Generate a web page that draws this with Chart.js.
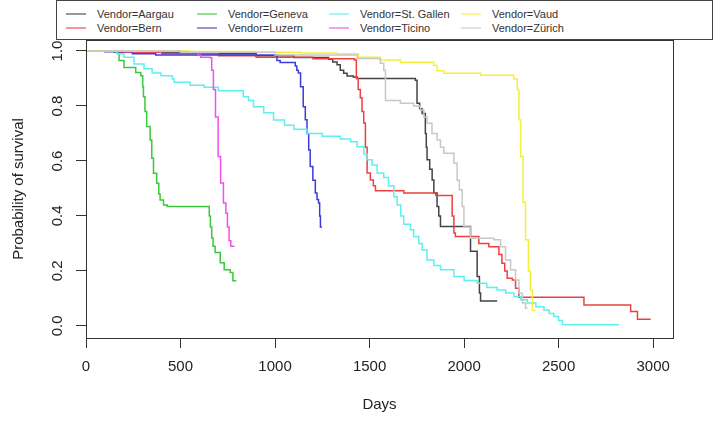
<!DOCTYPE html>
<html>
<head>
<meta charset="utf-8">
<script src="https://cdn.jsdelivr.net/npm/chart.js@4/dist/chart.umd.min.js"></script>
<style>
  html, body { margin: 0; padding: 0; background: #fff; }
  #wrap { position: relative; width: 716px; height: 430px; }
  #legend {
    position: absolute; left: 56px; top: 0; width: 657px; height: 40px;
    box-sizing: border-box; border: 1px solid #444; background: #fff;
    font: 11px "Liberation Sans", Arial, sans-serif; color: #333;
  }
  .item { position: absolute; height: 14px; line-height: 14px; white-space: nowrap; }
  .item i { position: absolute; left: 0; top: 6px; width: 20px; height: 2px; opacity: 0.55; }
  .item span { position: absolute; left: 31px; top: 0; }
</style>
</head>
<body>
<div id="wrap">
  <canvas id="survChart" width="716" height="430"></canvas>
  <div id="legend"></div>
</div>
<script>
// Kaplan-Meier curves per vendor (days, survival probability)
const vendors = ['Aargau', 'Bern', 'Geneva', 'Luzern', 'St. Gallen', 'Ticino', 'Vaud', 'Zürich'];
const colors = ['#444444', '#ee4040', '#3cc83c', '#3c3cdc', '#5cf0f0', '#f050f0', '#f5f03c', '#c8c8c8'];

const aargauDays = [0, 200, 600, 900, 1100, 1283, 1305, 1328, 1345, 1363, 1381, 1414, 1434, 1742, 1751, 1765, 1778, 1795, 1800, 1804, 1818, 1831, 1840, 1857, 1866, 1875, 2034, 2069, 2081, 2087, 2175];
const aargauSurv = [1, 0.995, 0.99, 0.983, 0.976, 0.97, 0.96, 0.95, 0.93, 0.919, 0.909, 0.905, 0.9, 0.894, 0.81, 0.79, 0.773, 0.70, 0.65, 0.604, 0.57, 0.531, 0.483, 0.434, 0.40, 0.362, 0.272, 0.18, 0.12, 0.091, 0.091];

const bernDays = [0, 150, 400, 700, 900, 1200, 1420, 1430, 1440, 1451, 1460, 1469, 1478, 1487, 1504, 1520, 1531, 1681, 1850, 1937, 1946, 1954, 2078, 2131, 2184, 2200, 2215, 2228, 2255, 2272, 2290, 2634, 2881, 2917, 2987];
const bernSurv = [1, 0.995, 0.99, 0.983, 0.977, 0.972, 0.967, 0.90, 0.86, 0.83, 0.78, 0.738, 0.65, 0.556, 0.531, 0.51, 0.492, 0.483, 0.474, 0.40, 0.338, 0.325, 0.30, 0.288, 0.26, 0.228, 0.20, 0.173, 0.167, 0.137, 0.104, 0.076, 0.052, 0.024, 0.024];

const genevaDays = [0, 157, 175, 201, 263, 290, 300, 304, 312, 321, 339, 348, 357, 374, 385, 392, 410, 430, 652, 658, 665, 672, 683, 710, 731, 763, 777, 795];
const genevaSurv = [1, 0.995, 0.965, 0.94, 0.922, 0.91, 0.87, 0.834, 0.78, 0.725, 0.676, 0.61, 0.555, 0.519, 0.48, 0.458, 0.44, 0.434, 0.40, 0.36, 0.32, 0.29, 0.267, 0.23, 0.204, 0.194, 0.164, 0.164];

const luzernDays = [0, 100, 245, 369, 1010, 1027, 1107, 1115, 1123, 1135, 1149, 1160, 1169, 1178, 1186, 1200, 1213, 1222, 1230, 1236, 1240, 1248];
const luzernSurv = [1, 0.997, 0.99, 0.985, 0.965, 0.958, 0.945, 0.93, 0.92, 0.87, 0.797, 0.75, 0.70, 0.64, 0.58, 0.53, 0.483, 0.46, 0.447, 0.40, 0.36, 0.36];

const stGallenDays = [0, 162, 201, 254, 307, 350, 396, 457, 466, 550, 625, 700, 832, 860, 886, 940, 992, 1050, 1100, 1169, 1250, 1345, 1400, 1434, 1470, 1487, 1513, 1540, 1575, 1600, 1628, 1646, 1665, 1681, 1716, 1733, 1760, 1778, 1804, 1840, 1875, 1946, 2000, 2069, 2120, 2175, 2220, 2263, 2300, 2334, 2380, 2422, 2450, 2475, 2500, 2520, 2820];
const stGallenSurv = [1, 0.99, 0.977, 0.953, 0.935, 0.92, 0.91, 0.898, 0.886, 0.875, 0.868, 0.855, 0.834, 0.82, 0.797, 0.775, 0.749, 0.73, 0.715, 0.70, 0.69, 0.68, 0.67, 0.652, 0.625, 0.604, 0.585, 0.556, 0.54, 0.51, 0.47, 0.44, 0.40, 0.37, 0.35, 0.325, 0.30, 0.276, 0.24, 0.22, 0.204, 0.18, 0.165, 0.155, 0.14, 0.131, 0.12, 0.107, 0.095, 0.083, 0.07, 0.058, 0.045, 0.034, 0.02, 0.004, 0.004];

const ticinoDays = [0, 200, 500, 593, 607, 657, 665, 674, 685, 699, 712, 727, 740, 748, 757, 766, 785];
const ticinoSurv = [1, 0.998, 0.995, 0.985, 0.977, 0.975, 0.93, 0.86, 0.76, 0.616, 0.52, 0.447, 0.41, 0.36, 0.31, 0.29, 0.29];

const vaudDays = [0, 551, 900, 1133, 1328, 1441, 1557, 1663, 1839, 1857, 1893, 2087, 2263, 2281, 2290, 2299, 2312, 2325, 2340, 2350, 2361, 2378];
const vaudSurv = [1, 0.998, 0.995, 0.993, 0.99, 0.977, 0.967, 0.959, 0.947, 0.928, 0.919, 0.912, 0.898, 0.86, 0.75, 0.616, 0.45, 0.313, 0.2, 0.131, 0.056, 0.056];

const zurichDays = [0, 500, 1000, 1434, 1557, 1575, 1584, 1663, 1733, 1769, 1787, 1804, 1830, 1857, 1875, 1893, 1946, 1963, 1975, 1990, 1999, 2034, 2157, 2193, 2219, 2246, 2272, 2290, 2308, 2325, 2335];
const zurichSurv = [1, 0.995, 0.985, 0.973, 0.955, 0.93, 0.82, 0.81, 0.80, 0.785, 0.76, 0.737, 0.70, 0.676, 0.65, 0.628, 0.592, 0.53, 0.495, 0.434, 0.36, 0.319, 0.313, 0.288, 0.24, 0.204, 0.167, 0.119, 0.083, 0.064, 0.064];

const xTicks = [0, 500, 1000, 1500, 2000, 2500, 3000];
const yTicks = [0, 0.2, 0.4, 0.6, 0.8, 1.0];

const allDays = [aargauDays, bernDays, genevaDays, luzernDays, stGallenDays, ticinoDays, vaudDays, zurichDays];
const allSurv = [aargauSurv, bernSurv, genevaSurv, luzernSurv, stGallenSurv, ticinoSurv, vaudSurv, zurichSurv];

const datasets = vendors.map((v, i) => ({
    label: 'Vendor=' + v,
    data: allDays[i].map((d, j) => ({ x: d, y: allSurv[i][j] })),
    borderColor: colors[i],
    borderWidth: 1.5,
    stepped: 'before',
    pointRadius: 0,
    fill: false,
    order: vendors.length - i // later strata on top, like R
}));

// legend box (overlaps the plot top, as in the R output)
const legendEl = document.getElementById('legend');
const colLeft = [9, 140, 272, 404];
const rowTop = [6, 20];
vendors.forEach((v, i) => {
    const col = Math.floor(i / 2), row = i % 2;
    const it = document.createElement('div');
    it.className = 'item';
    it.style.left = colLeft[col] + 'px';
    it.style.top = rowTop[row] + 'px';
    it.innerHTML = `<i style="background:${colors[i]}"></i><span>Vendor=${v}</span>`;
    legendEl.appendChild(it);
});

// plot frame
const boxPlugin = {
    id: 'box',
    afterDraw(chart) {
        const { ctx, chartArea: a } = chart;
        ctx.save();
        ctx.strokeStyle = '#333';
        ctx.lineWidth = 1;
        ctx.strokeRect(a.left + 0.5, a.top + 0.5, a.right - a.left, a.bottom - a.top);
        ctx.restore();
    }
};

const tickFont = { family: "'Liberation Sans', Arial, sans-serif", size: 15 };

new Chart(document.getElementById('survChart'), {
    type: 'line',
    data: { datasets },
    options: {
        responsive: false,
        animation: false,
        layout: { padding: { left: 0, right: 43, top: 40, bottom: 0 } },
        plugins: { legend: { display: false }, tooltip: { enabled: false } },
        scales: {
            x: {
                type: 'linear',
                min: 0,
                max: 3105,
                afterBuildTicks: s => { s.ticks = xTicks.map(v => ({ value: v })); },
                afterFit: s => { s.height = 92; },
                border: { display: false },
                grid: { drawOnChartArea: false, drawTicks: true, tickLength: 10, tickColor: '#333', color: '#333' },
                ticks: { font: tickFont, color: '#222', padding: 10, maxRotation: 0, autoSkip: false, callback: v => String(v) },
                title: { display: true, text: 'Days', font: tickFont, color: '#222', padding: { top: 0, bottom: 16 } }
            },
            y: {
                type: 'linear',
                min: -0.044,
                max: 1.04,
                afterBuildTicks: s => { s.ticks = yTicks.map(v => ({ value: v })); },
                afterFit: s => { s.width = 86; },
                border: { display: false },
                grid: { drawOnChartArea: false, drawTicks: true, tickLength: 10, tickColor: '#333', color: '#333' },
                ticks: {
                    font: tickFont, color: '#222', padding: 8,
                    minRotation: 90, maxRotation: 90, crossAlign: 'center', autoSkip: false,
                    callback: v => v.toFixed(1)
                },
                title: { display: true, text: 'Probability of survival', font: tickFont, color: '#222', padding: { top: 10, bottom: 0 } }
            }
        }
    },
    plugins: [boxPlugin]
});
</script>
</body>
</html>
